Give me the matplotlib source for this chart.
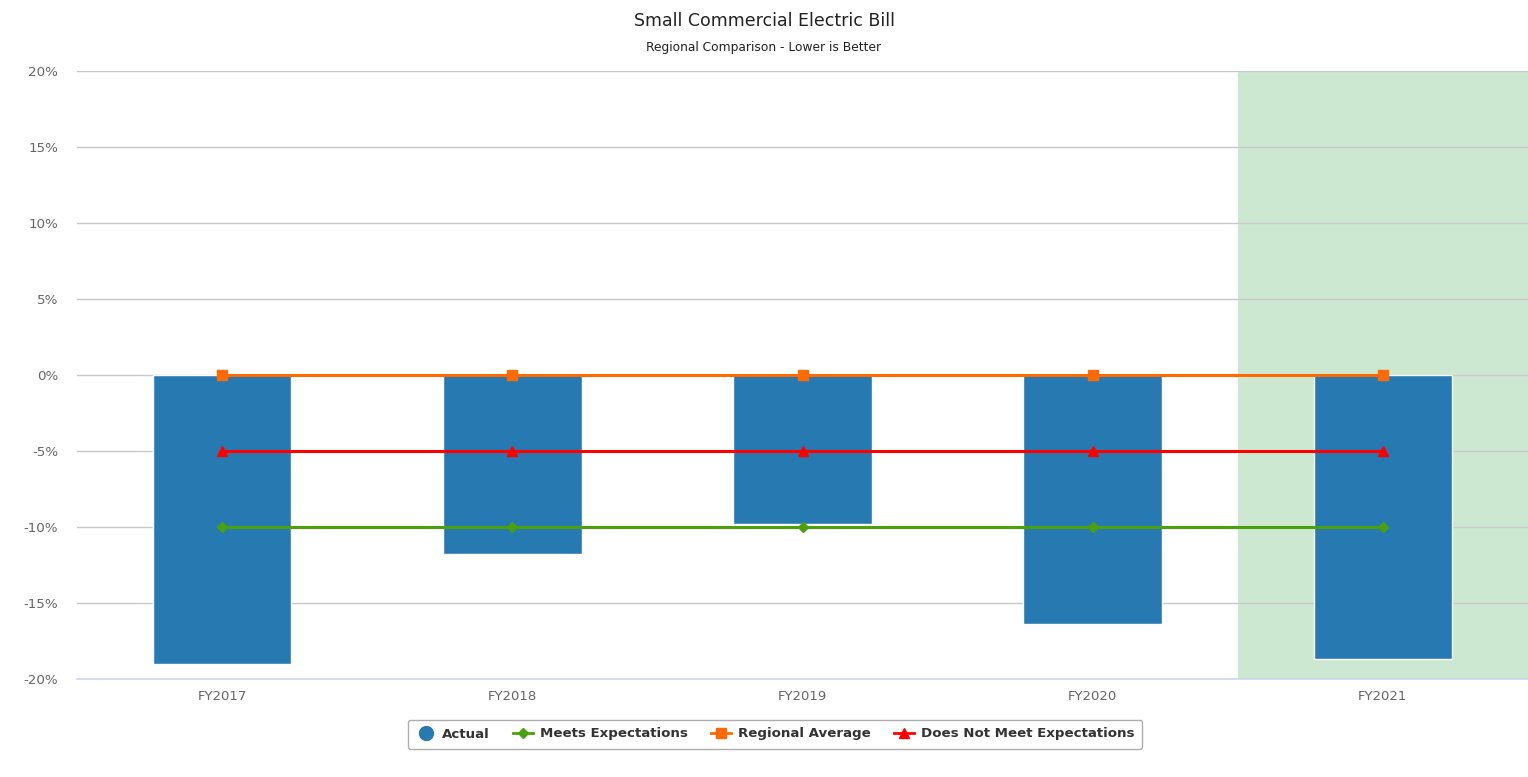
import matplotlib
matplotlib.use("Agg")
import matplotlib.pyplot as plt
from matplotlib.lines import Line2D
from matplotlib.ticker import FuncFormatter, MultipleLocator

years = ["FY2017", "FY2018", "FY2019", "FY2020", "FY2021"]
actual = [-19.0, -11.8, -9.8, -16.4, -18.7]
meets_expectations = [-10, -10, -10, -10, -10]
regional_average = [0, 0, 0, 0, 0]
does_not_meet = [-5, -5, -5, -5, -5]
highlight_year = "FY2021"

plt.rcParams["font.family"] = ["DejaVu Sans"]

fig = plt.figure(figsize=(15.28, 7.77), dpi=100)
ax = fig.add_axes([77 / 1528, 98 / 777, 1451 / 1528, 608 / 777])

x = list(range(len(years)))
hi = years.index(highlight_year)
ax.axvspan(hi - 0.5, hi + 0.5, color="#cde8d1", zorder=0, lw=0)

ax.bar(x, actual, width=0.478, color="#2779b2", edgecolor="white",
       linewidth=1, zorder=2)

ax.plot(x, meets_expectations, color="#4aa10c", lw=2.2, marker="D",
        ms=5.5, zorder=3)
ax.plot(x, regional_average, color="#ff6a00", lw=2.2, marker="s",
        ms=7, zorder=3)
ax.plot(x, does_not_meet, color="#ff0000", lw=2.2, marker="^",
        ms=7, zorder=3)

ax.set_xlim(-0.5, len(years) - 0.5)
ax.set_ylim(-20, 20)
ax.yaxis.set_major_locator(MultipleLocator(5))
ax.yaxis.set_major_formatter(FuncFormatter(lambda v, p: f"{v:.0f}%"))
ax.set_xticks(x)
ax.set_xticklabels(years)
ax.grid(axis="y", color="#c8c8c8", lw=1, zorder=1)
ax.set_axisbelow(True)
for s in ["top", "right", "left"]:
    ax.spines[s].set_visible(False)
ax.spines["bottom"].set_color("#ccd6eb")
ax.spines["bottom"].set_linewidth(1.2)
ax.spines["bottom"].set_zorder(4)
ax.tick_params(axis="y", length=0, pad=13.5, labelsize=9.7, labelcolor="#666666")
ax.tick_params(axis="x", length=0, pad=8, labelsize=9.5, labelcolor="#666666")

fig.text(0.5, 1 - 21 / 777, "Small Commercial Electric Bill", ha="center",
         va="center", fontsize=12.5, color="#222222")
fig.text(0.5, 1 - 48 / 777, "Regional Comparison - Lower is Better",
         ha="center", va="center", fontsize=8.8, color="#222222")

handles = [
    Line2D([], [], ls="none", marker="o", ms=10, color="#2779b2"),
    Line2D([], [], color="#4aa10c", lw=2, marker="D", ms=5),
    Line2D([], [], color="#ff6a00", lw=2, marker="s", ms=7),
    Line2D([], [], color="#ff0000", lw=2, marker="^", ms=7),
]
labels = ["Actual", "Meets Expectations", "Regional Average",
          "Does Not Meet Expectations"]
leg = fig.legend(handles, labels, loc="center", ncol=4,
                 bbox_to_anchor=(775 / 1528, 1 - 734 / 777),
                 frameon=True, fancybox=True, handlelength=1.5,
                 handletextpad=0.5, columnspacing=1.75, borderpad=0.6,
                 prop={"weight": "bold", "size": 9.6})
leg.get_frame().set_edgecolor("#999999")
leg.get_frame().set_linewidth(1)
for t in leg.get_texts():
    t.set_color("#333333")

fig.savefig("out.png", dpi=100)
